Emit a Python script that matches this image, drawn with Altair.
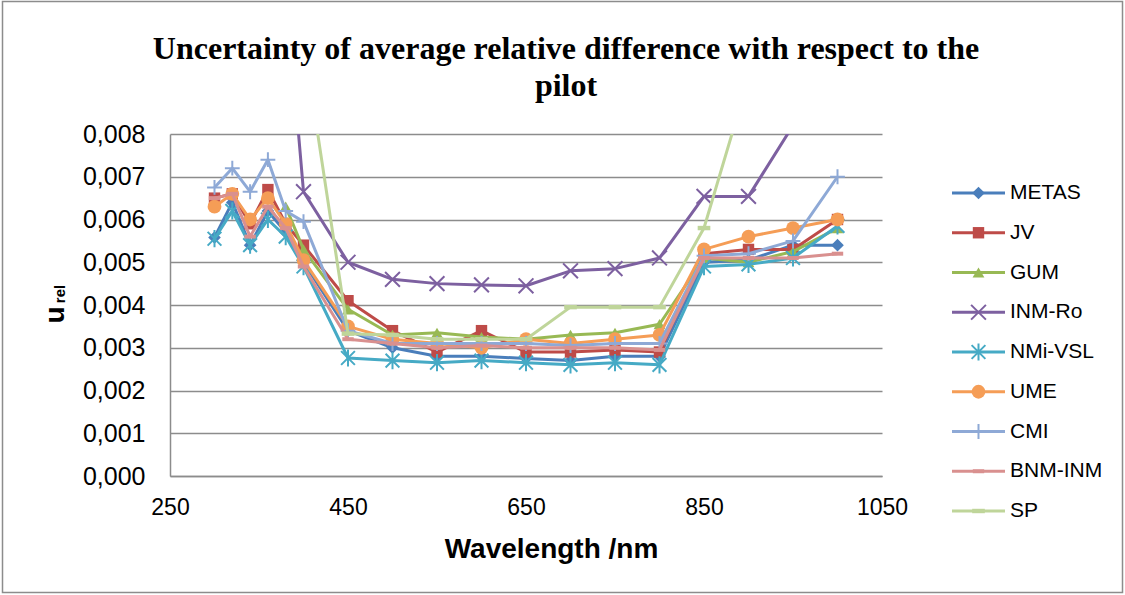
import altair as alt
import pandas as pd

wavelengths = [300, 320, 340, 360, 380, 400, 450, 500, 550, 600, 650, 700, 750, 800, 850, 900, 950, 1000]

series_names = ["METAS", "JV", "GUM", "INM-Ro", "NMi-VSL", "UME", "CMI", "BNM-INM", "SP"]

metas = [0.00558, 0.0064, 0.0054, 0.0062, 0.0057, 0.0050, 0.0034, 0.0030, 0.0028, 0.0028, 0.00275, 0.0027, 0.0028, 0.0028, 0.0050, 0.00505, 0.0054, 0.0054]
jv = [0.0065, 0.0066, 0.0059, 0.0067, 0.0059, 0.0054, 0.0041, 0.0034, 0.0029, 0.0034, 0.0029, 0.0029, 0.00295, 0.0029, 0.0052, 0.0053, 0.0053, 0.0060]
gum = [None, None, None, None, 0.0063, 0.0053, 0.0039, 0.0033, 0.00335, 0.00325, 0.0032, 0.0033, 0.00335, 0.00355, 0.0051, 0.0050, 0.00525, 0.0058]
inm_ro = [None, None, None, None, 0.0115, 0.00665, 0.0050, 0.0046, 0.0045, 0.00447, 0.00445, 0.0048, 0.00485, 0.0051, 0.00654, 0.00654, 0.0082, 0.0095]
nmi_vsl = [0.00555, 0.0062, 0.0054, 0.0060, 0.0056, 0.0049, 0.00276, 0.0027, 0.00265, 0.0027, 0.00265, 0.0026, 0.00265, 0.0026, 0.0049, 0.00495, 0.0051, 0.00585]
ume = [0.0063, 0.0066, 0.0060, 0.0065, 0.0059, 0.00505, 0.0035, 0.0032, 0.0031, 0.0030, 0.0032, 0.0031, 0.0032, 0.0033, 0.0053, 0.0056, 0.0058, 0.0060]
cmi = [0.00675, 0.0072, 0.00665, 0.0074, 0.0062, 0.00595, 0.0034, 0.0031, 0.0031, 0.0031, 0.0031, 0.00305, 0.0031, 0.0031, 0.00515, 0.0052, 0.0055, 0.0070]
bnm_inm = [0.0065, 0.0066, 0.0056, 0.0063, 0.0058, 0.0049, 0.0032, 0.0031, 0.0030, 0.00305, 0.0030, 0.0030, 0.0030, 0.00295, 0.0051, 0.0051, 0.0051, 0.0052]
sp = [None, None, None, None, None, 0.0102, 0.00333, 0.0033, 0.0032, 0.0032, 0.0032, 0.00395, 0.00395, 0.00395, 0.0058, 0.0093, 0.0120, 0.0140]

values = [metas, jv, gum, inm_ro, nmi_vsl, ume, cmi, bnm_inm, sp]

colors = ["#4A7EBB", "#BE4B48", "#98B954", "#7D60A0", "#46AAC5", "#F59D56", "#8EA9D6", "#D9908F", "#BFD59A"]

title_lines = ["Uncertainty of average relative difference with respect to the", "pilot"]

X_PATH = "M-1,-1L1,1M-1,1L1,-1"
STAR_PATH = "M-1,-1L1,1M-1,1L1,-1M0,-1.25L0,1.25"
PLUS_PATH = "M-1,0L1,0M0,-1L0,1"
DASH_PATH = "M-1,-0.35L1,-0.35L1,0.35L-1,0.35Z"
markers = [
    dict(shape="diamond", filled=True, size=160, strokeWidth=1),
    dict(shape="square", filled=True, size=130, strokeWidth=1),
    dict(shape="triangle-up", filled=True, size=140, strokeWidth=1),
    dict(shape=X_PATH, filled=False, size=220, strokeWidth=2),
    dict(shape=STAR_PATH, filled=False, size=190, strokeWidth=2),
    dict(shape="circle", filled=True, size=190, strokeWidth=1),
    dict(shape=PLUS_PATH, filled=False, size=220, strokeWidth=2),
    dict(shape=DASH_PATH, filled=True, size=130, strokeWidth=1),
    dict(shape=DASH_PATH, filled=True, size=160, strokeWidth=1),
]

rows = []
for name, vals in zip(series_names, values):
    for w, v in zip(wavelengths, vals):
        if v is not None:
            rows.append({"series": name, "wl": w, "u": v})
df = pd.DataFrame(rows)

W, H = 712, 342
GRID = "#8C8C8C"

x_enc = alt.X(
    "wl:Q",
    scale=alt.Scale(domain=[250, 1050], nice=False, zero=False),
    axis=alt.Axis(
        values=[250, 450, 650, 850, 1050], grid=False, ticks=False,
        labelExpr="format(datum.value, 'd')",
        domainColor=GRID, domainWidth=1.5, labelFont="Liberation Sans",
        labelFontSize=23, labelColor="black", labelPadding=20, labelFlush=False,
        labelOverlap=False, title="Wavelength /nm", titleFont="Liberation Sans",
        titleFontSize=28, titleFontWeight="bold", titleColor="black",
        titleX=381, titleY=73, titleBaseline="middle", titleAnchor="start",
        titleAlign="center",
    ),
)
y_enc = alt.Y(
    "u:Q",
    scale=alt.Scale(domain=[0, 0.008], nice=False, zero=False),
    axis=alt.Axis(
        values=[0, 0.001, 0.002, 0.003, 0.004, 0.005, 0.006, 0.007, 0.008],
        labelExpr="replace(format(datum.value, '.3f'), '.', ',')",
        grid=True, gridColor=GRID, gridWidth=1.5, ticks=False,
        domainColor=GRID, domainWidth=1.5, labelFont="Liberation Sans",
        labelFontSize=25, labelColor="black", labelPadding=25, title=None,
    ),
)

base = alt.Chart(df)
main_layers = []
for name, col, mk in zip(series_names, colors, markers):
    sub = base.transform_filter(alt.datum.series == name)
    main_layers.append(
        sub.mark_line(color=col, strokeWidth=3, clip=True, strokeJoin="round").encode(x=x_enc, y=y_enc)
    )
    main_layers.append(
        sub.mark_point(color=col, opacity=1, clip=True, **mk).encode(x=x_enc, y=y_enc)
    )
main = alt.layer(*main_layers)

leg_df = pd.DataFrame({"name": series_names})
leg_base = alt.Chart(leg_df)
y_leg = alt.Y("name:N", scale=alt.Scale(type="point", domain=series_names, range=[59, 377], padding=0), axis=None)
leg_layers = [
    leg_base.mark_rule(strokeWidth=3).encode(
        x=alt.value(782), x2=alt.value(835), y=y_leg,
        color=alt.Color("name:N", scale=alt.Scale(domain=series_names, range=colors), legend=None),
    )
]
for name, col, mk in zip(series_names, colors, markers):
    leg_layers.append(
        leg_base.transform_filter(alt.datum.name == name)
        .mark_point(color=col, opacity=1, **mk)
        .encode(x=alt.value(808.5), y=y_leg)
    )
leg_layers.append(
    leg_base.mark_text(align="left", baseline="middle", font="Liberation Sans", fontSize=21, color="black")
    .encode(x=alt.value(840), y=y_leg, text="name:N")
)
legend = alt.layer(*leg_layers)

dummy = alt.Chart(pd.DataFrame({"a": [0]}))
ylab_u = dummy.mark_text(text="u", angle=270, font="Liberation Sans", fontSize=28, fontWeight="bold",
                         align="center", baseline="middle", color="black").encode(
    x=alt.value(-114), y=alt.value(181))
ylab_rel = dummy.mark_text(text="rel", angle=270, font="Liberation Sans", fontSize=15, fontWeight="bold",
                           align="center", baseline="middle", color="black").encode(
    x=alt.value(-110), y=alt.value(160))
title1 = dummy.mark_text(text=title_lines[0], font="Liberation Serif", fontSize=32, fontWeight="bold",
                         align="center", baseline="middle", color="black").encode(
    x=alt.value(396), y=alt.value(-85))
title2 = dummy.mark_text(text=title_lines[1], font="Liberation Serif", fontSize=32, fontWeight="bold",
                         align="center", baseline="middle", color="black").encode(
    x=alt.value(396), y=alt.value(-48))
border = dummy.mark_rect(fill="white", fillOpacity=0, stroke=GRID, strokeWidth=1.5).encode(
    x=alt.value(-167.5), x2=alt.value(W + 240.5), y=alt.value(-132.5), y2=alt.value(H + 116.5))

chart = alt.layer(border, main, legend, ylab_u, ylab_rel, title1, title2).resolve_scale(y="independent").properties(
    width=W,
    height=H,
    autosize=alt.AutoSizeParams(type="none"),
    padding={"left": 170, "top": 134, "right": 243, "bottom": 119},
    background="white",
).configure_view(stroke=None)

chart.save("out.html", embed_options={"renderer": "svg", "actions": False})
